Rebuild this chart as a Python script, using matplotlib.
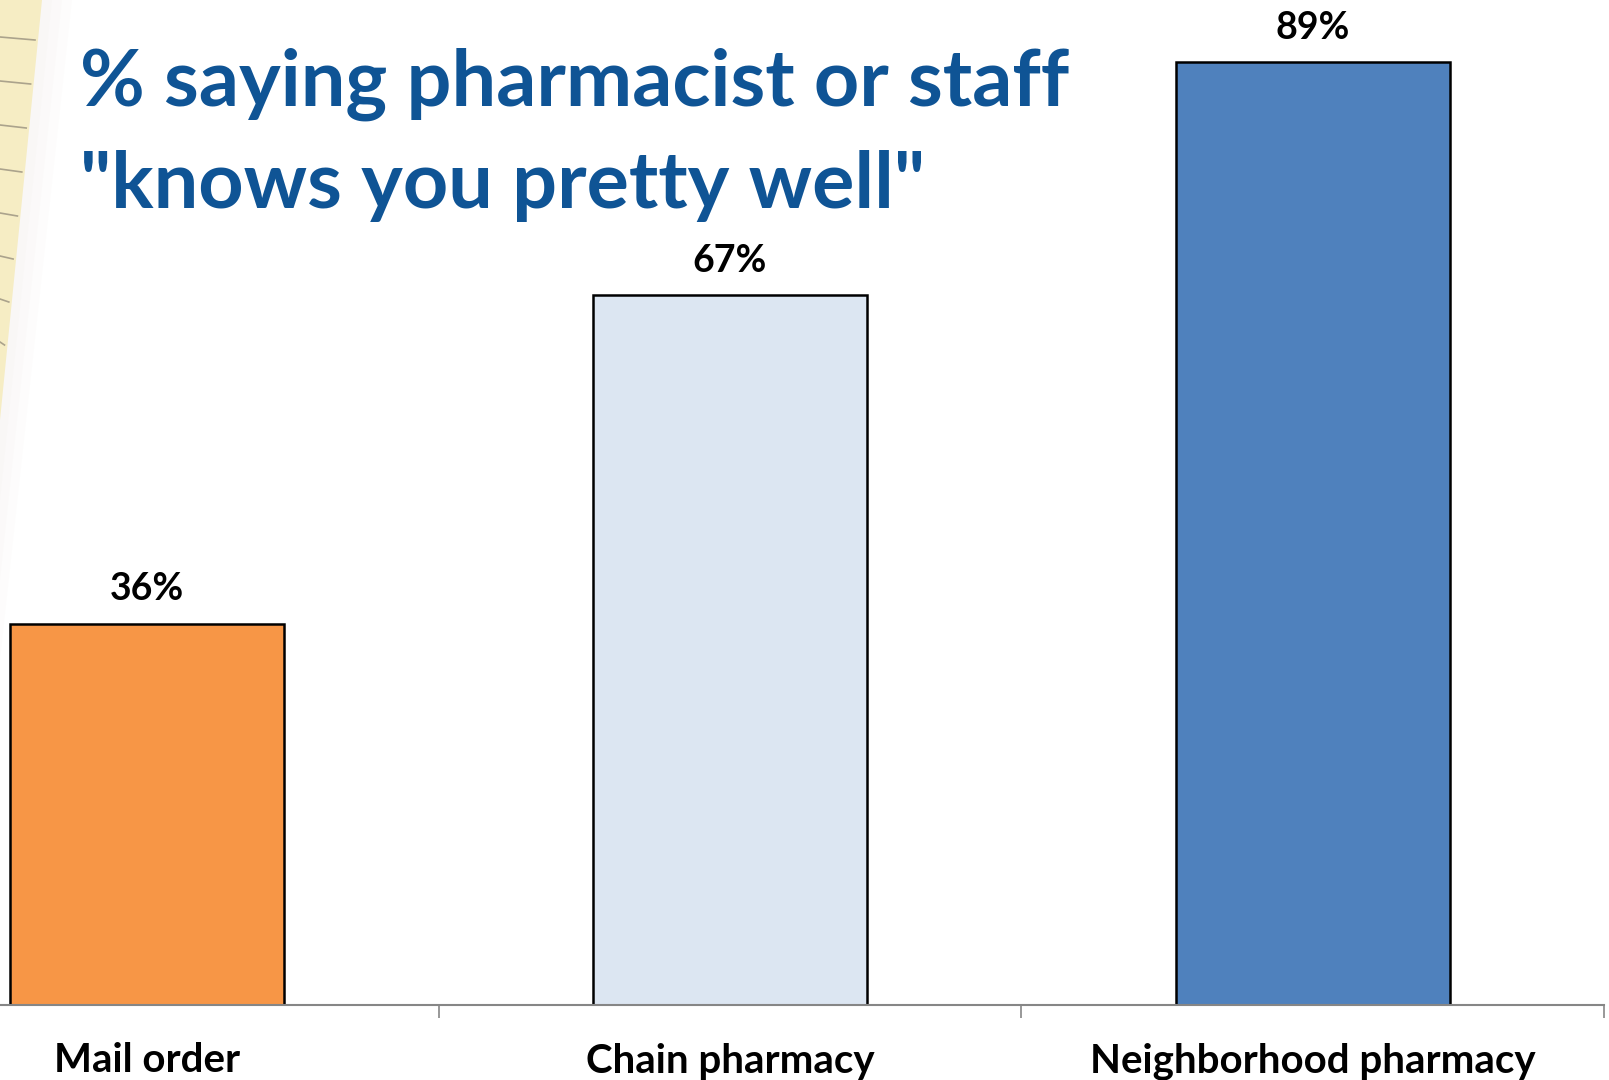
import matplotlib.pyplot as plt
from matplotlib.patches import Polygon
from matplotlib.lines import Line2D

categories = ["Mail order", "Chain pharmacy", "Neighborhood pharmacy"]
values = [36, 67, 89]
colors = ["#F79646", "#DCE6F2", "#4F81BD"]
title_lines = ["% saying pharmacist or staff", "\"knows you pretty well\""]

W, H = 1609, 1080
fig = plt.figure(figsize=(W / 100, H / 100), dpi=100)
fig.patch.set_facecolor("white")

# yellow notepad corner on the left (pixel coords, origin top-left)
def px(x, y):
    return (x / W, 1 - y / H)

for k, a in enumerate([0.25, 0.35, 0.5]):
    off = 30 - k * 10
    fig.patches.append(Polygon([px(0, 0), px(42 + off, 0), px(0, 420 + off * 8)],
                               closed=True, transform=fig.transFigure,
                               facecolor="#F8F6F4", alpha=a, edgecolor="none"))
fig.patches.append(Polygon([px(0, 0), px(42, 0), px(0, 420)], closed=True,
                           transform=fig.transFigure, facecolor="#F6EDC4",
                           edgecolor="none"))
for y in [40, 84, 128, 172, 216, 259, 302, 345]:
    xe = 42 * (1 - y / 420) - 3
    if xe > 0:
        fig.lines.append(Line2D([0, xe / W], [1 - (y - 3) / H, 1 - y / H],
                                transform=fig.transFigure, color="#9E9682",
                                lw=1.2, alpha=0.85))

# axes placed so the left part of the category axis falls off the image
x0, x1 = -144.2, 1604.3
ax = fig.add_axes([x0 / W, 75 / H, (x1 - x0) / W, 1 - 75 / H])
ax.patch.set_alpha(0)
ax.bar(range(3), values, width=0.47, color=colors, edgecolor="black", linewidth=1.8)
ax.set_xlim(-0.5, 2.5)
ax.set_ylim(0, 1005 / 10.59)

for s in ["top", "right", "left"]:
    ax.spines[s].set_visible(False)
ax.spines["bottom"].set_color("#868686")
ax.spines["bottom"].set_linewidth(1.5)
ax.set_yticks([])
ax.set_xticks(range(3))
ax.set_xticklabels(categories, fontfamily="Lato", fontweight="bold", fontsize=29)
ax.tick_params(axis="x", which="major", length=0, pad=27)
ax.set_xticks([0.5, 1.5, 2.5], minor=True)
ax.tick_params(axis="x", which="minor", length=9, width=1.2, color="#868686",
               direction="out")

for i, v in enumerate(values):
    ax.annotate(f"{v}%", (i, v), xytext=(0, 17), textcoords="offset points",
                ha="center", va="baseline", fontfamily="Lato",
                fontweight="bold", fontsize=27, color="black")

fig.text(80 / W, 1 - 106 / H, title_lines[0], fontfamily="Lato", fontweight="bold",
         fontsize=57, color="#0F5495", ha="left", va="baseline")
fig.text(80 / W, 1 - 208 / H, title_lines[1], fontfamily="Lato", fontweight="bold",
         fontsize=57, color="#0F5495", ha="left", va="baseline")

fig.savefig("out.png", dpi=100)
